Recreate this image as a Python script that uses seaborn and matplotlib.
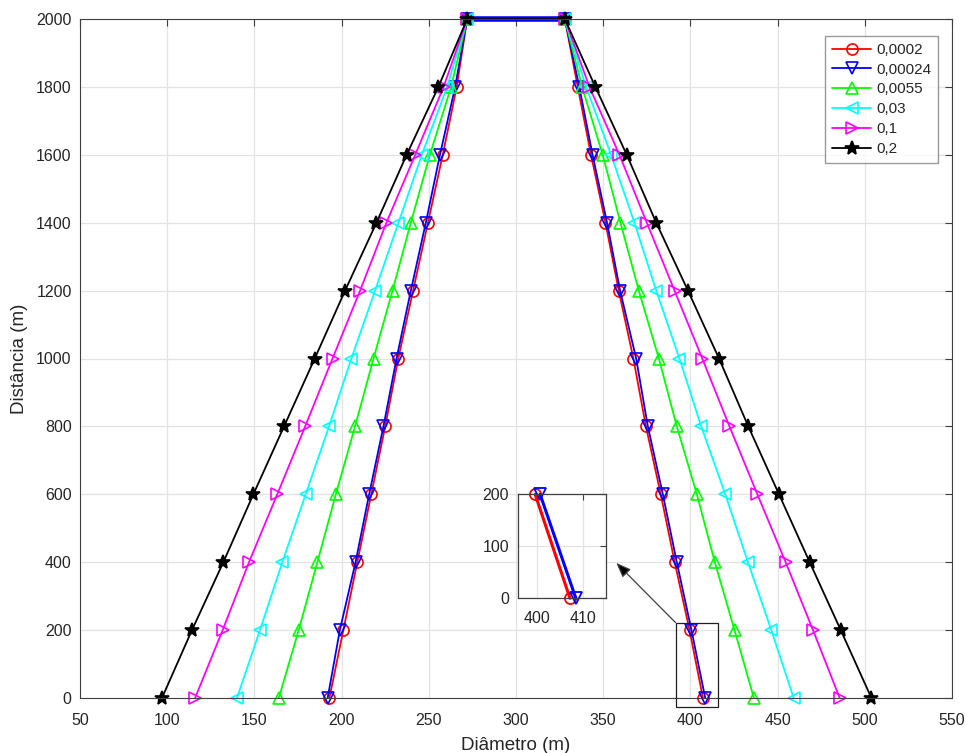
import matplotlib
matplotlib.use("Agg")
import matplotlib.pyplot as plt
import seaborn as sns
import pandas as pd
from matplotlib.patches import Rectangle

sns.set_style("white")
plt.rcParams['font.family'] = ['Liberation Sans', 'DejaVu Sans']

# ---------------- data ----------------
distances = [0, 200, 400, 600, 800, 1000, 1200, 1400, 1600, 1800, 2000]
labels = ["0,0002", "0,00024", "0,0055", "0,03", "0,1", "0,2"]
colors = ["#ff0000", "#0000ff", "#00ff00", "#00ffff", "#ff00ff", "#000000"]
markers = ["o", "v", "^", "<", ">", "*"]

left_0002 = [193, 201, 209, 217, 225, 232.5, 241, 249.5, 258, 266, 272]
left_00024 = [192, 199, 208, 215.8, 224, 231.5, 239.7, 248.3, 256.4, 265.1, 272]
left_0055 = [164, 175.4, 186.1, 196.7, 207.7, 218.3, 229.2, 239.7, 250.6, 262.8, 272]
left_03 = [140, 153.2, 166.0, 179.4, 192.8, 205.6, 219.2, 232.6, 246.0, 260.5, 272]
left_1 = [116, 131.8, 146.9, 163.1, 179.1, 194.8, 210.6, 225.7, 242.2, 258.5, 272]
left_2 = [97, 114.2, 132.2, 149.4, 167.0, 184.6, 202.0, 220.0, 237.3, 255.5, 272]

right_0002 = [407.2, 399.5, 391, 383, 374.5, 367.3, 358.9, 351.3, 343.0, 335.4, 328]
right_00024 = [408.5, 400.6, 392.2, 384.2, 375.6, 368.9, 359.7, 352.2, 343.9, 336.3, 328]
right_0055 = [436.4, 425.3, 414.0, 403.7, 392.2, 381.9, 370.4, 359.9, 349.7, 337.9, 328]
right_03 = [459.2, 446.4, 433.0, 420.0, 406.2, 393.7, 380.4, 367.9, 354.5, 340.2, 328]
right_1 = [485.6, 470.3, 454.6, 438.4, 422.4, 406.8, 390.9, 375.0, 359.3, 342.1, 328]
right_2 = [503.8, 486.2, 468.4, 450.8, 433.2, 416.4, 398.6, 380.4, 363.5, 345.5, 328]

lefts = [left_0002, left_00024, left_0055, left_03, left_1, left_2]
rights = [right_0002, right_00024, right_0055, right_03, right_1, right_2]

top_x = [272, 328]
top_y = [2000, 2000]

x_ticks = [50, 100, 150, 200, 250, 300, 350, 400, 450, 500, 550]
y_ticks = [0, 200, 400, 600, 800, 1000, 1200, 1400, 1600, 1800, 2000]

# ---------------- figure ----------------
W, H = 966, 753
fig = plt.figure(figsize=(W / 100, H / 100), dpi=100)
fig.patch.set_facecolor("white")

def px_axes(l, t, r, b):
    return fig.add_axes([l / W, 1 - b / H, (r - l) / W, (b - t) / H])

ax = px_axes(80, 19, 952, 698)

def series_df(lx, rx):
    xs = list(lx) + list(reversed(rx))
    ys = list(distances) + list(reversed(distances))
    return pd.DataFrame({"x": xs, "y": ys})

def style_last(a, col, mk, ms, lw, mew):
    ln = a.get_lines()[-1]
    ln.set_linestyle("-")
    ln.set_linewidth(lw)
    ln.set_color(col)
    ln.set_marker(mk)
    ln.set_markersize(ms)
    ln.set_markeredgecolor(col)
    ln.set_markeredgewidth(mew)
    ln.set_markerfacecolor(col if mk == "*" else "none")
    ln.set_clip_on(False)
    return ln

# top connecting segment (thick blue)
sns.lineplot(x=top_x, y=top_y, sort=False, estimator=None, ax=ax,
             color="#0000ff", linewidth=4, legend=False)
ax.get_lines()[-1].set_zorder(1.5)
ax.get_lines()[-1].set_clip_on(False)

handles = []
for lab, col, mk, lx, rx in zip(labels, colors, markers, lefts, rights):
    df = series_df(lx, rx)
    sns.lineplot(data=df, x="x", y="y", sort=False, estimator=None, ax=ax,
                 color=col, legend=False)
    ln = style_last(ax, col, mk, 10 if mk == "*" else 8, 1.3, 1.2)
    ln.set_label(lab)
    ln.set_zorder(2)
    handles.append(ln)

tick_color = "#262626"
ax.set_xlim(50, 550)
ax.set_ylim(0, 2000)
ax.set_xticks(x_ticks)
ax.set_yticks(y_ticks)
ax.grid(True, color="#e3e3e3", linewidth=0.9)
ax.set_axisbelow(True)
ax.tick_params(direction="in", length=5, width=0.8, colors="#404040",
               labelcolor=tick_color, labelsize=11.5, top=True, right=True,
               pad=6)
ax.tick_params(axis="x", pad=11)
for s in ax.spines.values():
    s.set_color("#404040")
    s.set_linewidth(0.8)
ax.set_xlabel("Diâmetro (m)", fontsize=13.5, color=tick_color, labelpad=6)
ax.set_ylabel("Distância (m)", fontsize=13.5, color=tick_color, labelpad=6)

leg = ax.legend(handles=handles, labels=labels, loc="upper right",
                bbox_to_anchor=(0.984, 0.975),
                borderaxespad=0, fontsize=11, frameon=True, fancybox=False,
                edgecolor="#808080", handlelength=2.6, handletextpad=0.3,
                labelspacing=0.38, borderpad=0.45)
leg.get_frame().set_linewidth(1.0)
leg.set_zorder(10)

# zoom rectangle and arrow
rect = Rectangle((391.5, -27), 24.5, 249, fill=False, edgecolor="#202020",
                 linewidth=0.9, clip_on=False, zorder=5)
ax.add_patch(rect)
ax.annotate("", xy=(357.5, 398), xytext=(391.5, 222),
            arrowprops=dict(arrowstyle="-|>,head_length=0.9,head_width=0.35",
                            color="#404040", lw=0.9, shrinkA=0, shrinkB=0,
                            fc="black", ec="#404040"),
            zorder=6)

# inset (bottom of the right branch, red and blue series)
ins = px_axes(517.5, 494.3, 605.7, 598.3)
for lab, col, mk, rx in zip(labels[:2], colors[:2], markers[:2], rights[:2]):
    df = pd.DataFrame({"x": rx, "y": distances})
    df = df[df["y"] <= 200]
    sns.lineplot(data=df, x="x", y="y", sort=False, estimator=None, ax=ins,
                 color=col, legend=False)
    style_last(ins, col, mk, 8, 2.2, 1.3)
ins.set_xlim(395.6, 415.1)
ins.set_ylim(0, 200)
ins.set_xticks([400, 410])
ins.set_yticks([0, 100, 200])
ins.grid(True, color="#e3e3e3", linewidth=0.9)
ins.set_axisbelow(True)
ins.set_xlabel("")
ins.set_ylabel("")
ins.tick_params(direction="in", length=4, width=0.8, colors="#404040",
                labelcolor=tick_color, labelsize=11.5, top=True, right=True,
                pad=6)
ins.tick_params(axis="x", pad=9)
for s in ins.spines.values():
    s.set_color("#404040")
    s.set_linewidth(0.9)

fig.savefig("out.png", dpi=100, facecolor="white")
